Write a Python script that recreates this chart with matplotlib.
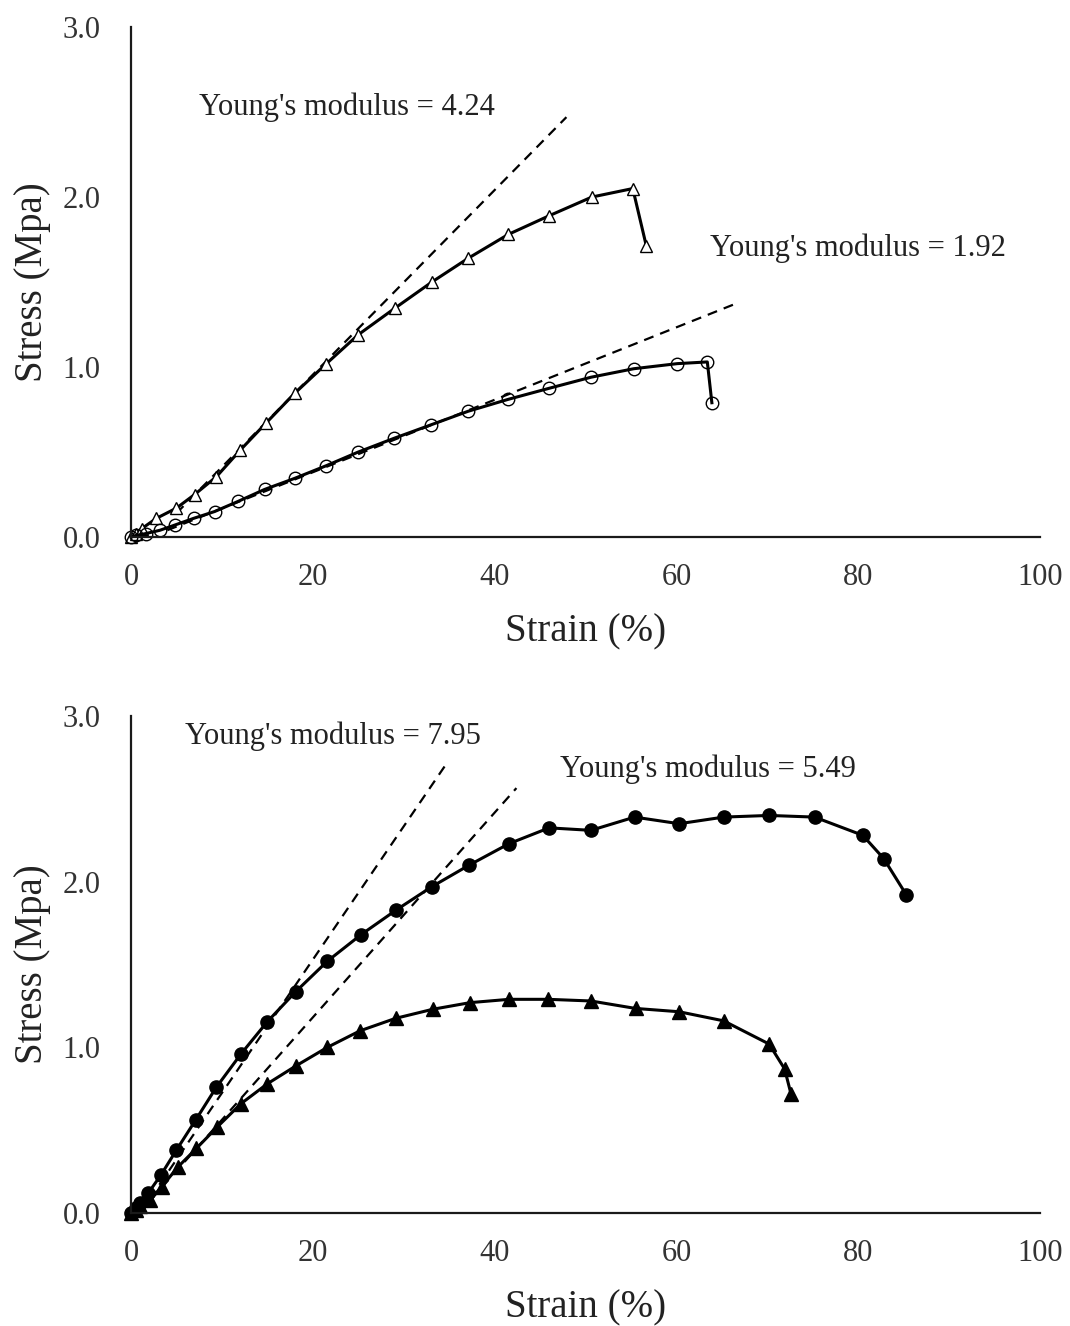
import matplotlib
matplotlib.use("Agg")
import matplotlib.pyplot as plt

plt.rcParams['font.family'] = ['Liberation Serif', 'DejaVu Serif']

# ---- Top panel data ----
top_tri_x = [0, 0.5, 1.2, 2.8, 5.0, 7.0, 9.4, 12.0, 14.85, 18.0, 21.5, 25.0, 29.0, 33.1,
             37.1, 41.5, 46.0, 50.7, 55.2, 56.7]
top_tri_y = [0, 0.02, 0.05, 0.11, 0.17, 0.25, 0.355, 0.51, 0.67, 0.845, 1.02, 1.19, 1.345,
             1.50, 1.64, 1.78, 1.89, 2.00, 2.05, 1.71]
top_cir_x = [0, 0.6, 1.6, 3.2, 4.8, 6.9, 9.2, 11.8, 14.7, 18.0, 21.5, 25.0, 28.9, 33.0,
             37.1, 41.5, 46.0, 50.6, 55.3, 60.1, 63.4, 63.9]
top_cir_y = [0, 0.01, 0.02, 0.04, 0.07, 0.11, 0.15, 0.21, 0.28, 0.345, 0.42, 0.50, 0.58,
             0.66, 0.74, 0.81, 0.875, 0.94, 0.99, 1.02, 1.03, 0.79]
top_fit1_x = [5.0, 47.9]
top_fit1_y = [0.14, 2.47]
top_fit2_x = [4.0, 66.4]
top_fit2_y = [0.04, 1.37]
top_labels = ["Young's modulus = 4.24", "Young's modulus = 1.92"]

# ---- Bottom panel data ----
bot_cir_x = [0, 0.5, 1.0, 1.9, 3.3, 5.0, 7.1, 9.4, 12.1, 15.0, 18.1, 21.6, 25.3, 29.2, 33.1,
             37.2, 41.6, 46.0, 50.6, 55.4, 60.3, 65.2, 70.2, 75.2, 80.5, 82.8, 85.3]
bot_cir_y = [0, 0.03, 0.06, 0.12, 0.23, 0.38, 0.56, 0.76, 0.96, 1.155, 1.335, 1.52, 1.68,
             1.83, 1.97, 2.10, 2.23, 2.325, 2.31, 2.39, 2.35, 2.39, 2.40, 2.39, 2.28, 2.14, 1.92]
bot_tri_x = [0, 0.5, 1.0, 2.1, 3.4, 5.2, 7.2, 9.5, 12.1, 15.0, 18.2, 21.6, 25.2, 29.1, 33.2,
             37.3, 41.6, 45.9, 50.6, 55.5, 60.3, 65.2, 70.2, 71.9, 72.6]
bot_tri_y = [0, 0.02, 0.04, 0.08, 0.16, 0.28, 0.39, 0.52, 0.66, 0.78, 0.89, 1.00, 1.10,
             1.175, 1.23, 1.27, 1.29, 1.29, 1.28, 1.235, 1.215, 1.16, 1.02, 0.87, 0.72]
bot_fit1_x = [1.0, 34.8]
bot_fit1_y = [0.0, 2.72]
bot_fit2_x = [0.9, 42.4]
bot_fit2_y = [0.0, 2.565]
bot_labels = ["Young's modulus = 7.95", "Young's modulus = 5.49"]

xticks = [0, 20, 40, 60, 80, 100]
yticks = [0.0, 1.0, 2.0, 3.0]

fig = plt.figure(figsize=(10.70, 13.26), dpi=100)
ax1 = fig.add_axes([0.1224, 0.595, 0.8496, 0.3846])
ax2 = fig.add_axes([0.1224, 0.0852, 0.8496, 0.3748])

LW = 2.2
dash = (0, (4.5, 3.2))
TXT = '#222222'

def style(ax):
    ax.set_xlim(0, 100)
    ax.set_ylim(0, 3.0)
    ax.set_xticks(xticks)
    ax.set_yticks(yticks)
    ax.set_xticklabels([str(v) for v in xticks])
    ax.set_yticklabels([f"{v:.1f}" for v in yticks])
    for s in ['top', 'right']:
        ax.spines[s].set_visible(False)
    for s in ['left', 'bottom']:
        ax.spines[s].set_linewidth(1.6)
        ax.spines[s].set_color('#1a1a1a')
    ax.tick_params(axis='x', length=0, labelsize=22, colors='#333333', pad=19)
    ax.tick_params(axis='y', length=0, labelsize=22, colors='#333333', pad=22)
    ax.set_xlabel('Strain (%)', fontsize=28, color=TXT, labelpad=15)
    ax.set_ylabel('Stress (Mpa)', fontsize=28, color=TXT, labelpad=8)

# Top
ax1.plot(top_fit1_x, top_fit1_y, color='black', lw=1.6, linestyle=dash)
ax1.plot(top_fit2_x, top_fit2_y, color='black', lw=1.6, linestyle=dash)
ax1.plot(top_tri_x, top_tri_y, color='black', lw=LW, marker='^', markersize=9,
         markerfacecolor='white', markeredgecolor='black', markeredgewidth=1.0, clip_on=False)
ax1.plot(top_cir_x, top_cir_y, color='black', lw=LW, marker='o', markersize=9,
         markerfacecolor='none', markeredgecolor='black', markeredgewidth=1.0, clip_on=False)
ax1.text(23.8, 2.53, top_labels[0], fontsize=22, ha='center', va='center', color=TXT)
ax1.text(80.0, 1.70, top_labels[1], fontsize=22, ha='center', va='center', color=TXT)
style(ax1)

# Bottom
ax2.plot(bot_fit1_x, bot_fit1_y, color='black', lw=1.6, linestyle=dash)
ax2.plot(bot_fit2_x, bot_fit2_y, color='black', lw=1.6, linestyle=dash)
ax2.plot(bot_cir_x, bot_cir_y, color='black', lw=LW, marker='o', markersize=9.5,
         markerfacecolor='black', markeredgecolor='black', clip_on=False)
ax2.plot(bot_tri_x, bot_tri_y, color='black', lw=LW, marker='^', markersize=10,
         markerfacecolor='black', markeredgecolor='black', clip_on=False)
ax2.text(22.2, 2.88, bot_labels[0], fontsize=22, ha='center', va='center', color=TXT)
ax2.text(63.5, 2.68, bot_labels[1], fontsize=22, ha='center', va='center', color=TXT)
style(ax2)

fig.savefig('out.png', dpi=100)
